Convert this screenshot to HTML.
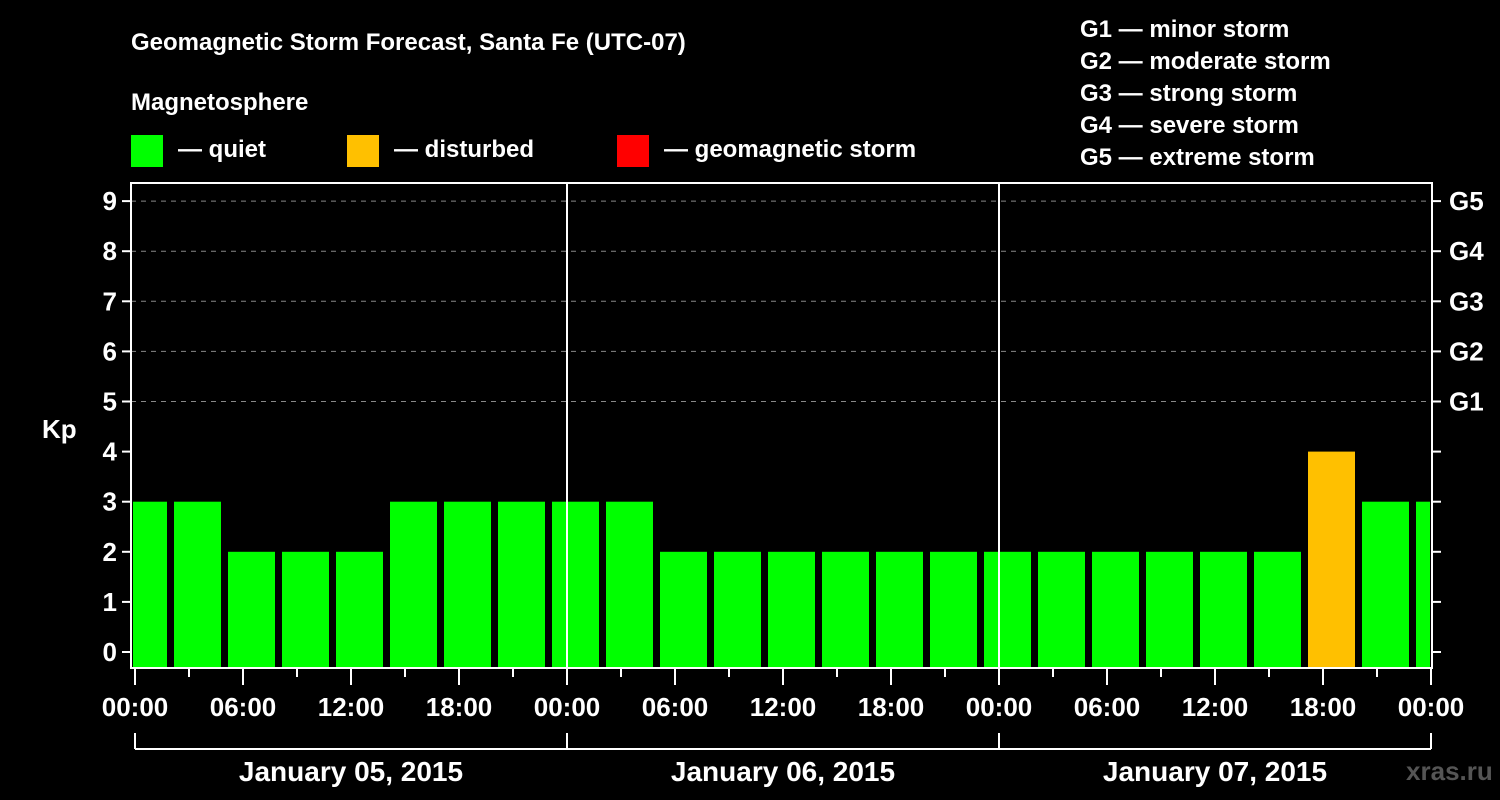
<!DOCTYPE html>
<html><head><meta charset="utf-8"><style>
body{margin:0;background:#000;}
svg{display:block;font-family:"Liberation Sans",sans-serif;font-weight:bold;}
</style></head><body>
<svg id="chart" width="1500" height="800">
<text x="131" y="50" fill="#fff" font-size="24">Geomagnetic Storm Forecast, Santa Fe (UTC-07)</text>
<text x="131" y="110" fill="#fff" font-size="24">Magnetosphere</text>
<g><rect x="131" y="135" width="32" height="32" fill="#00ff00"/><text x="178" y="157" fill="#fff" font-size="24">— quiet</text></g>
<g><rect x="347" y="135" width="32" height="32" fill="#ffc000"/><text x="394" y="157" fill="#fff" font-size="24">— disturbed</text></g>
<g><rect x="617" y="135" width="32" height="32" fill="#ff0000"/><text x="664" y="157" fill="#fff" font-size="24">— geomagnetic storm</text></g>
<g fill="#fff" font-size="24">
<text x="1080" y="37">G1 — minor storm</text>
<text x="1080" y="69">G2 — moderate storm</text>
<text x="1080" y="101">G3 — strong storm</text>
<text x="1080" y="133">G4 — severe storm</text>
<text x="1080" y="165">G5 — extreme storm</text>
</g>
<text x="42" y="438" fill="#fff" font-size="26">Kp</text>
<text x="1500" y="780" fill="#555" font-size="26" text-anchor="end">xras.ru&#160;</text>
<defs><clipPath id="pc"><rect x="133" y="184" width="1297" height="484"/></clipPath></defs>
<g id="grid"></g>
<g id="bars" clip-path="url(#pc)"></g>
<g id="axes"></g>
</svg>
<script>
const kpValues=[3,3,2,2,2,3,3,3,3,3,2,2,2,2,2,2,2,2,2,2,2,2,4,3,3];
const hourLabels=["00:00","06:00","12:00","18:00"];
const dayLabels=["January 05, 2015","January 06, 2015","January 07, 2015"];
const gLabels=["G1","G2","G3","G4","G5"];
const NS="http://www.w3.org/2000/svg";
const X0=135, PXH=18, Y0=652, PXK=50.1, BOT=668, TOP=183, L=131, R=1432;
const xs=h=>X0+h*PXH, ys=v=>Y0-v*PXK;
function mk(p,t,a){const e=document.createElementNS(NS,t);for(const k in a)e.setAttribute(k,a[k]);p.appendChild(e);return e;}
const grid=document.getElementById('grid'),bars=document.getElementById('bars'),axes=document.getElementById('axes');
for(let v=5;v<=9;v++){const l=mk(grid,'line',{x1:L,x2:R,y1:ys(v),y2:ys(v),stroke:'#888','stroke-dasharray':'5,5','stroke-width':1});

}
kpValues.forEach((v,i)=>{const x=xs(i*3)-15;const c=v>=5?'#ff0000':(v>=4?'#ffc000':'#00ff00');
const r=mk(bars,'rect',{x:x,y:ys(v),width:47,height:BOT-1-ys(v),fill:c});

});
[1,2].forEach(d=>{const l=mk(axes,'line',{x1:xs(d*24),x2:xs(d*24),y1:TOP,y2:BOT,stroke:'#fff','stroke-width':2});

});
const fr=mk(axes,'rect',{x:L,y:TOP,width:R-L,height:BOT-TOP,fill:'none',stroke:'#fff','stroke-width':2});


for(let v=0;v<=9;v++){
mk(axes,'line',{x1:L-9,x2:L,y1:ys(v),y2:ys(v),stroke:'#fff','stroke-width':2});
mk(axes,'line',{x1:R,x2:R+9,y1:ys(v),y2:ys(v),stroke:'#fff','stroke-width':2});
const t=mk(axes,'text',{x:L-14,y:ys(v)+9,fill:'#fff','font-size':26,'text-anchor':'end'});t.textContent=v;


if(v>=5){const g=mk(axes,'text',{x:R+17,y:ys(v)+9,fill:'#fff','font-size':26});g.textContent=gLabels[v-5];

}}
for(let h=0;h<=72;h+=3){const major=h%6===0;
mk(axes,'line',{x1:xs(h),x2:xs(h),y1:BOT,y2:BOT+(major?17:9),stroke:'#fff','stroke-width':2});
if(major){const t=mk(axes,'text',{x:xs(h),y:716,fill:'#fff','font-size':26,'text-anchor':'middle'});t.textContent=hourLabels[(h/6)%4];

}}
mk(axes,'line',{x1:xs(0),x2:xs(72),y1:749,y2:749,stroke:'#fff','stroke-width':2});
for(let d=0;d<=3;d++)mk(axes,'line',{x1:xs(d*24),x2:xs(d*24),y1:733,y2:749,stroke:'#fff','stroke-width':2});
dayLabels.forEach((s,d)=>{const t=mk(axes,'text',{x:xs(d*24+12),y:781,fill:'#fff','font-size':28,'text-anchor':'middle'});t.textContent=s;

});
</script>
</body></html>
